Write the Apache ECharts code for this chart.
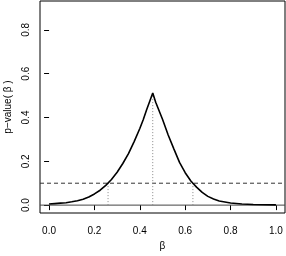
<!DOCTYPE html>
<html><head><meta charset="utf-8">
<script src="https://cdn.jsdelivr.net/npm/echarts@6/dist/echarts.min.js"></script>
<style>html,body{margin:0;padding:0;background:#fff}#c{width:286px;height:256px}</style>
</head><body><div id="c"></div>
<script>
// p-value function
const betaX = [0.00,0.025,0.05,0.075,0.10,0.125,0.15,0.175,0.20,0.225,0.25,0.275,0.30,0.325,0.35,0.375,0.40,0.415,0.43,0.445,0.457,
  0.47,0.50,0.525,0.55,0.575,0.60,0.625,0.65,0.675,0.70,0.725,0.75,0.80,0.85,0.90,0.95,1.00];
const pValue = [0.005,0.007,0.009,0.011,0.015,0.020,0.027,0.037,0.051,0.068,0.090,0.117,0.150,0.190,0.235,0.290,0.350,0.390,0.435,0.478,0.512,
  0.470,0.392,0.320,0.257,0.195,0.148,0.110,0.082,0.058,0.040,0.028,0.019,0.010,0.005,0.003,0.002,0.001];
const xTicks = [0.0,0.2,0.4,0.6,0.8,1.0];
const yTicks = [0.0,0.2,0.4,0.6,0.8];
const threshold = 0.1;
const ciLow = 0.26, estimate = 0.457, ciHigh = 0.634;
const peakP = 0.512;

const font = '"Liberation Sans", Arial, Helvetica, sans-serif';
const chart = echarts.init(document.getElementById('c'));
const curve = betaX.map((x,i)=>[x,pValue[i]]);
const fmt = v => v.toFixed(1);
chart.setOption({
  animation:false,
  grid:{left:40,right:1,top:1,bottom:43,containLabel:false,outerBoundsMode:'none',show:true,borderColor:'#000',borderWidth:1,backgroundColor:'transparent'},
  xAxis:{type:'value',min:-0.04,max:1.04,
    name:'β',nameLocation:'middle',nameGap:21,nameTextStyle:{fontFamily:font,fontSize:10,color:'#000'},
    axisLine:{show:false},splitLine:{show:false},
    axisTick:{show:true,length:5,customValues:xTicks,lineStyle:{color:'#000'}},
    axisLabel:{customValues:xTicks,formatter:fmt,margin:13,fontFamily:font,fontSize:10,color:'#000'}},
  yAxis:{type:'value',min:-0.036,max:0.932,
    name:'p−value( β )',nameLocation:'middle',nameGap:27,nameTextStyle:{fontFamily:font,fontSize:10,color:'#000'},
    axisLine:{show:false},splitLine:{show:false},
    axisTick:{show:true,length:5,customValues:yTicks,lineStyle:{color:'#000'}},
    axisLabel:{customValues:yTicks,formatter:fmt,rotate:90,margin:9,fontFamily:font,fontSize:10,color:'#000'}},
  series:[
    {type:'line',data:[[-0.04,0],[1.04,0]],symbol:'none',lineStyle:{color:'#444',width:1},silent:true},
    {type:'line',data:[[-0.04,threshold],[1.04,threshold]],symbol:'none',lineStyle:{color:'#333',width:1,type:[4,3]},silent:true},
    {type:'line',data:[[ciLow,0],[ciLow,threshold]],symbol:'none',lineStyle:{color:'#888',width:1,type:[1,2]},silent:true},
    {type:'line',data:[[estimate,0],[estimate,peakP]],symbol:'none',lineStyle:{color:'#888',width:1,type:[1,2]},silent:true},
    {type:'line',data:[[ciHigh,0],[ciHigh,threshold]],symbol:'none',lineStyle:{color:'#888',width:1,type:[1,2]},silent:true},
    {type:'line',data:curve,symbol:'none',lineStyle:{color:'#000',width:1.6},silent:true}
  ]
});
</script></body></html>
